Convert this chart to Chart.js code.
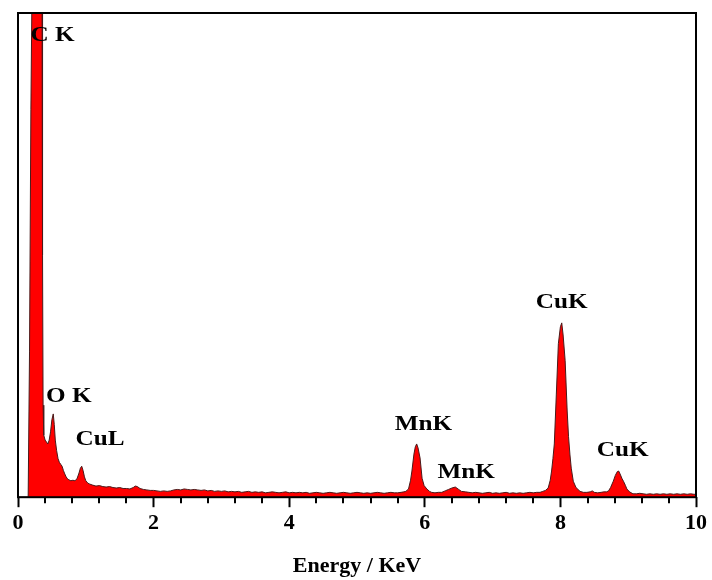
<!DOCTYPE html>
<html lang="en">
<head>
    <meta charset="UTF-8">
    <title>EDS spectrum</title>
    <script src="https://cdn.jsdelivr.net/npm/chart.js"></script>
    <style>
        body { margin: 0; background: #fff; }
        canvas { display: block; }
    </style>
</head>
<body>
    <canvas id="edsChart" width="712" height="580"></canvas>

    <script>
        // Spectrum (energy in keV, counts in arbitrary units)
        const energy = [
            0, 0.15, 0.16, 0.17, 0.19, 0.21, 0.25, 0.28, 0.31, 0.34,
            0.355, 0.362, 0.37, 0.38, 0.40, 0.42, 0.44, 0.46, 0.48, 0.50,
            0.52, 0.535, 0.55, 0.57, 0.59, 0.61, 0.63, 0.65, 0.67, 0.69,
            0.71, 0.73, 0.75, 0.78, 0.81, 0.84, 0.87, 0.90, 0.92, 0.94,
            0.96, 0.98, 1.00, 1.03, 1.06, 1.10, 1.15, 1.20, 1.25, 1.30,
            1.35, 1.40, 1.45, 1.50, 1.55, 1.60, 1.65, 1.70, 1.73, 1.76,
            1.80, 1.85, 1.90, 1.95, 2.00, 2.05, 2.10, 2.15, 2.20, 2.25,
            2.30, 2.35, 2.40, 2.45, 2.50, 2.55, 2.60, 2.65, 2.70, 2.75,
            2.80, 2.85, 2.90, 2.95, 3.00, 3.05, 3.10, 3.15, 3.20, 3.25,
            3.30, 3.35, 3.40, 3.45, 3.50, 3.55, 3.60, 3.65, 3.70, 3.75,
            3.80, 3.85, 3.90, 3.95, 4.00, 4.05, 4.10, 4.15, 4.20, 4.25,
            4.30, 4.35, 4.40, 4.45, 4.50, 4.55, 4.60, 4.65, 4.70, 4.75,
            4.80, 4.85, 4.90, 4.95, 5.00, 5.05, 5.10, 5.15, 5.20, 5.25,
            5.30, 5.35, 5.40, 5.45, 5.50, 5.55, 5.60, 5.65, 5.69, 5.72,
            5.76, 5.79, 5.81, 5.84, 5.86, 5.88, 5.90, 5.93, 5.96, 5.99,
            6.03, 6.07, 6.10, 6.15, 6.20, 6.25, 6.30, 6.35, 6.40, 6.45,
            6.50, 6.54, 6.60, 6.65, 6.70, 6.75, 6.80, 6.85, 6.90, 6.95,
            7.00, 7.05, 7.10, 7.15, 7.20, 7.25, 7.30, 7.35, 7.40, 7.45,
            7.50, 7.55, 7.60, 7.65, 7.70, 7.74, 7.78, 7.82, 7.85, 7.87,
            7.89, 7.91, 7.94, 7.97, 8.00, 8.02, 8.04, 8.07, 8.10, 8.12,
            8.14, 8.16, 8.19, 8.23, 8.29, 8.34, 8.39, 8.44, 8.47, 8.50,
            8.55, 8.60, 8.64, 8.68, 8.71, 8.74, 8.78, 8.81, 8.84, 8.86,
            8.88, 8.91, 8.93, 8.96, 8.98, 9.02, 9.07, 9.12, 9.17, 9.22,
            9.27, 9.32, 9.37, 9.42, 9.47, 9.52, 9.57, 9.62, 9.67, 9.72,
            9.77, 9.82, 9.87, 9.92, 9.97, 10.00
        ];
        const counts = [
            0, 0, 0, 300, 800, 1100, 2600, 3200, 2500, 1300,
            1000, 500, 190, 128, 118, 114, 110, 118, 135, 160,
            172, 150, 118, 96, 80, 72, 68, 64, 55, 48,
            42, 38, 36, 34, 35, 34, 38, 50, 60, 64,
            55, 42, 34, 29, 27, 25, 23, 24, 22, 21,
            22, 20, 19, 20, 18, 18, 17, 20, 23, 22,
            18, 16, 15, 14, 14, 13, 12, 13, 12, 13,
            15, 16, 15, 17, 16, 15, 16, 15, 14, 15,
            13, 14, 12, 13, 12, 13, 11, 12, 11, 12,
            10, 11, 12, 10, 11, 10, 11, 9, 10, 11,
            10, 9, 10, 11, 9, 10, 9, 10, 9, 10,
            8, 9, 10, 9, 8, 9, 10, 9, 8, 9,
            10, 9, 8, 9, 10, 9, 8, 9, 8, 9,
            10, 9, 8, 9, 10, 9, 9, 10, 11, 12,
            17, 35, 54, 89, 104, 110, 102, 81, 39, 24,
            17, 12, 10, 9, 10, 10, 13, 16, 19, 21,
            16, 12, 11, 10, 9, 10, 9, 8, 9, 10,
            8, 9, 8, 9, 10, 8, 9, 8, 9, 8,
            9, 10, 9, 10, 10, 12, 14, 19, 35, 54,
            80, 110, 213, 317, 352, 360, 335, 282, 178, 125,
            89, 60, 33, 20, 12, 10, 10, 11, 13, 10,
            9, 10, 11, 11, 13, 20, 33, 45, 53, 54,
            48, 38, 33, 24, 17, 11, 7, 7, 8, 7,
            6, 7, 6, 7, 6, 7, 6, 7, 6, 7,
            6, 7, 6, 7, 6, 6
        ];

        // Peak labels: text and where they sit (keV, counts)
        const peakNames = ['C K', 'O K', 'CuL', 'MnK', 'MnK', 'CuK', 'CuK'];
        const peakX = [0.51, 0.75, 1.21, 5.98, 6.61, 8.02, 8.92];
        const peakY = [956, 210, 121, 152, 53, 404, 99];

        const xTicks = [0, 2, 4, 6, 8, 10];

        const serif = "'Liberation Serif', 'Times New Roman', serif";

        if (energy.length !== counts.length) console.error('length mismatch', energy.length, counts.length);

        // minor ticks every 0.4 keV + the box round the plot
        const frame = {
            id: 'frame',
            afterDraw(chart) {
                const { ctx, chartArea: a, scales } = chart;
                const xs = scales.x;
                ctx.save();
                ctx.strokeStyle = '#000';
                ctx.lineWidth = 2;
                for (let k = 1; k < 25; k++) {
                    if (k % 5 === 0) continue;
                    const px = Math.round(xs.getPixelForValue(k * 0.4));
                    ctx.beginPath();
                    ctx.moveTo(px, a.bottom);
                    ctx.lineTo(px, a.bottom + 6);
                    ctx.stroke();
                }
                ctx.strokeRect(a.left, a.top, a.right - a.left, a.bottom - a.top);
                ctx.restore();
            }
        };

        const peakLabels = {
            id: 'peakLabels',
            afterDatasetsDraw(chart) {
                const { ctx, scales } = chart;
                ctx.save();
                ctx.fillStyle = '#000';
                ctx.font = 'bold 21px ' + serif;
                ctx.textAlign = 'center';
                ctx.textBaseline = 'middle';
                peakNames.forEach((name, i) => {
                    const px = scales.x.getPixelForValue(peakX[i]);
                    const py = scales.y.getPixelForValue(peakY[i]);
                    ctx.save();
                    ctx.translate(px, py);
                    ctx.scale(1.2, 1);
                    ctx.fillText(name, 0, 1);
                    ctx.restore();
                });
                ctx.restore();
            }
        };

        const ctx = document.getElementById('edsChart').getContext('2d');
        new Chart(ctx, {
            type: 'line',
            data: {
                datasets: [{
                    label: 'EDS',
                    data: energy.map((e, i) => ({ x: e, y: counts[i] })),
                    backgroundColor: '#ff0000',
                    borderColor: '#4a1a1a',
                    borderWidth: 1,
                    pointRadius: 0,
                    tension: 0,
                    fill: 'origin'
                }]
            },
            options: {
                responsive: false,
                animation: false,
                layout: { padding: { left: 18, right: 16, top: 13, bottom: 0 } },
                plugins: {
                    legend: { display: false },
                    tooltip: { enabled: false }
                },
                scales: {
                    x: {
                        type: 'linear',
                        min: 0,
                        max: 10,
                        afterBuildTicks: (scale) => {
                            scale.ticks = xTicks.map(v => ({ value: v }));
                        },
                        ticks: {
                            color: '#000',
                            padding: 3,
                            maxRotation: 0,
                            font: { family: serif, size: 22, weight: 'bold' }
                        },
                        grid: {
                            drawOnChartArea: false,
                            tickLength: 10,
                            tickWidth: 2,
                            tickColor: '#000'
                        },
                        border: { display: false },
                        title: {
                            display: true,
                            text: 'Energy / KeV',
                            color: '#000',
                            padding: { top: 14, bottom: 0 },
                            font: { family: serif, size: 22, weight: 'bold' }
                        }
                    },
                    y: {
                        display: false,
                        min: 0,
                        max: 1000
                    }
                }
            },
            plugins: [peakLabels, frame]
        });
    </script>
</body>
</html>
